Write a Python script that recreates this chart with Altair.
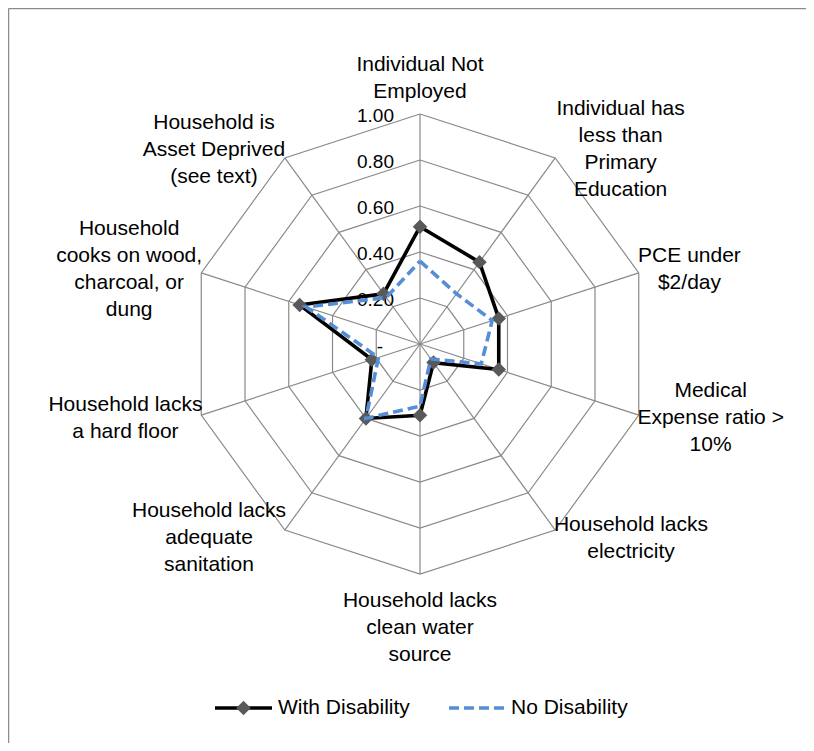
import math
import altair as alt
import pandas as pd

# ---------------- data ----------------
categories = [
    "Individual Not\nEmployed",
    "Individual has\nless than\nPrimary\nEducation",
    "PCE under\n$2/day",
    "Medical\nExpense ratio >\n10%",
    "Household lacks\nelectricity",
    "Household lacks\nclean water\nsource",
    "Household lacks\nadequate\nsanitation",
    "Household lacks\na hard floor",
    "Household\ncooks on wood,\ncharcoal, or\ndung",
    "Household is\nAsset Deprived\n(see text)",
]
with_disability = [0.51, 0.44, 0.36, 0.36, 0.10, 0.31, 0.40, 0.22, 0.55, 0.27]
no_disability = [0.36, 0.27, 0.33, 0.28, 0.08, 0.27, 0.40, 0.19, 0.52, 0.25]
series_names = ["With Disability", "No Disability"]
tick_values = [1.0, 0.8, 0.6, 0.4, 0.2, 0.0]
tick_labels = ["1.00", "0.80", "0.60", "0.40", "0.20", "-"]

# ---------------- layout ----------------
W, H = 798, 735          # whole chart (page minus 8px margins)
CX, CY = 412, 336        # centre of the radar in chart pixels
R = 230                  # pixels for value 1.0
XMIN = -CX / R
XMAX = XMIN + W / R
YMAX = CY / R
YMIN = YMAX - H / R
FONT = "Liberation Sans"
FS = 21
LH = 27
N = len(categories)

xs = alt.Scale(domain=[XMIN, XMAX], nice=False, zero=False)
ys = alt.Scale(domain=[YMIN, YMAX], nice=False, zero=False)
X = lambda f: alt.X(f, type="quantitative", scale=xs, axis=None)
Y = lambda f: alt.Y(f, type="quantitative", scale=ys, axis=None)

ang = "2*PI*datum.k/%d" % N

# ---------- grid (decagons + spokes) ----------
levels = [v for v in tick_values if v > 0]
grid_df = pd.DataFrame([{"level": lv, "k": k} for lv in levels for k in range(N + 1)])
grid = (
    alt.Chart(grid_df)
    .transform_calculate(gx="datum.level*sin(%s)" % ang, gy="datum.level*cos(%s)" % ang)
    .mark_line(color="#8a8a8a", strokeWidth=1.2)
    .encode(x=X("gx"), y=Y("gy"), detail="level:N", order="k:Q")
)

spoke_df = pd.DataFrame({"k": list(range(N))})
spokes = (
    alt.Chart(spoke_df)
    .transform_calculate(sx0="0", sy0="0", sx1="sin(%s)" % ang, sy1="cos(%s)" % ang)
    .mark_rule(color="#8a8a8a", strokeWidth=1.2)
    .encode(x=X("sx0"), y=Y("sy0"), x2="sx1:Q", y2="sy1:Q")
)

# ---------- series ----------
rows = []
for name, vals in zip(series_names, [with_disability, no_disability]):
    for k in range(N + 1):
        rows.append({"series": name, "k": k, "value": vals[k % N]})
ser_df = pd.DataFrame(rows)

def series_base(name):
    return (
        alt.Chart(ser_df)
        .transform_filter(alt.datum.series == name)
        .transform_calculate(px="datum.value*sin(%s)" % ang, py="datum.value*cos(%s)" % ang)
    )

line_with = series_base(series_names[0]).mark_line(
    color="black", strokeWidth=3.6, strokeJoin="miter"
).encode(x=X("px"), y=Y("py"), order="k:Q")

markers = (
    series_base(series_names[0])
    .transform_filter("datum.k < %d" % N)
    .mark_point(shape="diamond", filled=True, color="#595959", size=210, opacity=1)
    .encode(x=X("px"), y=Y("py"))
)

line_no = series_base(series_names[1]).mark_line(
    color="#558ED5", strokeWidth=3.6, strokeDash=[10, 5], strokeCap="butt"
).encode(x=X("px"), y=Y("py"), order="k:Q")

# ---------- value labels along the first spoke ----------
tick_df = pd.DataFrame({"v": tick_values, "t": tick_labels})
tick_base = alt.Chart(tick_df).transform_calculate(tx="0")
ticks = (
    tick_base.transform_filter("datum.v > 0")
    .mark_text(font=FONT, fontSize=19, align="right", baseline="middle", dx=-26, dy=2, color="black")
    .encode(x=X("tx"), y=Y("v"), text="t:N")
)
tick_zero = (
    tick_base.transform_filter("datum.v == 0")
    .mark_text(font=FONT, fontSize=19, align="right", baseline="middle", dx=-37, dy=3, color="black")
    .encode(x=X("tx"), y=Y("v"), text="t:N")
)

# ---------- category labels ----------
# approximate Times widths (em) so label blocks are centred where the original's are
W_EM = {
    "a": .444, "b": .5, "c": .444, "d": .5, "e": .444, "f": .333, "g": .5, "h": .5, "i": .278,
    "j": .278, "k": .5, "l": .278, "m": .778, "n": .5, "o": .5, "p": .5, "q": .5, "r": .333,
    "s": .389, "t": .278, "u": .5, "v": .5, "w": .722, "x": .5, "y": .5, "z": .444,
    "A": .722, "C": .667, "D": .722, "E": .611, "H": .722, "I": .333, "M": .889, "N": .722,
    "P": .556, " ": .25, ",": .25, ".": .25, "$": .5, "/": .278, "%": .833, ">": .564,
    "(": .333, ")": .333,
}

def text_width(s):
    return sum(W_EM.get(ch, 0.5) for ch in s) * 22

TOP_GAP = 22 / R
BOT_GAP = 27 / R
lab_rows = []
for k, lab in enumerate(categories):
    lines = lab.split("\n")
    n = len(lines)
    th = 2 * math.pi * k / N
    s, c = math.sin(th), math.cos(th)
    halfw = max(text_width(l) for l in lines) / 2 / R
    if abs(s) < 1e-6:
        lx = 0.0
        ly = 1 + TOP_GAP + (n - 1) * LH / R if c > 0 else -1 - BOT_GAP
    else:
        lx = s + math.copysign(halfw + 0.012, s)
        ly = c * 1.045 + (n - 1) * LH / 2 / R
    lab_rows.append({"label": lab, "lx": lx, "ly": ly})
lab_df = pd.DataFrame(lab_rows)
labels = (
    alt.Chart(lab_df)
    .mark_text(font=FONT, fontSize=FS, lineHeight=LH, lineBreak="\n",
               align="center", baseline="middle", color="black")
    .encode(x=X("lx"), y=Y("ly"), text="label:N")
)

# ---------- legend ----------
LY = 700
one = pd.DataFrame({"a": [0]})
leg = [
    alt.Chart(one).mark_rule(color="black", strokeWidth=3.6).encode(
        x=alt.value(207), x2=alt.value(264), y=alt.value(LY)),
    alt.Chart(one).mark_point(shape="diamond", filled=True, color="#595959", size=210, opacity=1).encode(
        x=alt.value(235.5), y=alt.value(LY)),
    alt.Chart(pd.DataFrame({"t": [series_names[0]]})).mark_text(
        font=FONT, fontSize=FS, align="left", baseline="middle", color="black").encode(
        x=alt.value(270), y=alt.value(LY), text="t:N"),
    alt.Chart(one).mark_rule(color="#558ED5", strokeWidth=3.6, strokeDash=[10, 5], strokeCap="butt").encode(
        x=alt.value(441), x2=alt.value(497), y=alt.value(LY)),
    alt.Chart(pd.DataFrame({"t": [series_names[1]]})).mark_text(
        font=FONT, fontSize=FS, align="left", baseline="middle", color="black").encode(
        x=alt.value(503), y=alt.value(LY), text="t:N"),
]

# ---------- frame (top and left edges) ----------
frame = [
    alt.Chart(one).mark_rule(color="#8c8c8c", strokeWidth=1.5).encode(
        x=alt.value(0.5), x2=alt.value(W), y=alt.value(0.5)),
    alt.Chart(one).mark_rule(color="#8c8c8c", strokeWidth=1.5).encode(
        x=alt.value(0.5), y=alt.value(0.5), y2=alt.value(H)),
]

chart = (
    alt.layer(grid, spokes, ticks, tick_zero, line_with, markers, line_no, labels, *leg, *frame)
    .properties(width=W, height=H, padding=0, autosize=alt.AutoSizeParams(type="none"),
                background="white")
    .configure_view(stroke=None)
)

chart.save("out.html", embed_options={"renderer": "svg", "actions": False})
